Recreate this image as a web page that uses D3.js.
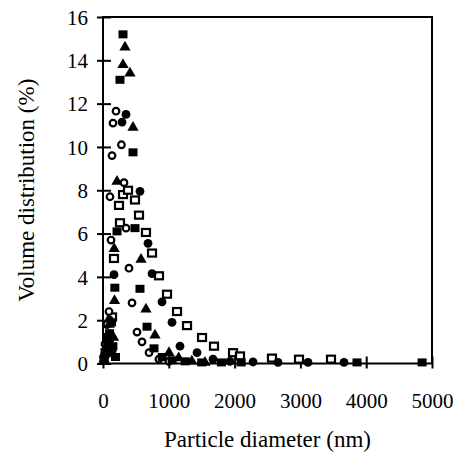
<!DOCTYPE html>
<html>
<head>
<meta charset="utf-8">
<script src="https://cdn.jsdelivr.net/npm/d3@7"></script>
<style>
  body { margin: 0; background: #fff; }
  text { font-family: "Liberation Serif", "Times New Roman", serif; fill: #000; }
</style>
</head>
<body>
<div id="chart"></div>
<script>
// [diameter nm, volume %]
const filledSquares = [[15,0.2],[40,0.5],[70,0.9],[100,1.4],[130,1.9],[150,0.8],[190,0.3],[180,3.5],[213,6.1],[258,13.1],[304,15.2],[456,9.75],[486,6.25],[562,3.45],[669,1.7],[775,0.7],[900,0.3],[1050,0.15],[1250,0.1],[1500,0.05],[1800,0.05],[2100,0.05],[3860,0.05],[4850,0.05]];
const triangles = [[15,0.2],[40,0.6],[65,1.1],[95,1.8],[120,0.5],[160,1.2],[175,2.9],[170,5.3],[213,8.4],[304,13.8],[334,14.6],[410,13.4],[456,10.9],[578,4.8],[653,2.5],[790,1.3],[1003,0.5],[1150,0.25],[1350,0.1],[1550,0.05]];
const openCircles = [[10,0.3],[30,0.9],[60,1.8],[91,2.4],[122,5.7],[106,7.7],[137,9.6],[152,11.1],[198,11.65],[280,10.1],[319,8.35],[350,6.25],[395,4.4],[441,2.8],[517,1.45],[593,1.0],[700,0.5],[850,0.2],[1000,0.1]];
const filledCircles = [[30,0.3],[60,1.0],[100,2.0],[140,0.6],[167,4.1],[289,11.15],[350,11.5],[562,7.95],[684,5.55],[745,4.15],[897,2.85],[1049,1.9],[1170,0.8],[1429,0.5],[1672,0.2],[1930,0.1],[2280,0.07],[2660,0.05],[3116,0.05],[3663,0.05]];
const openSquares = [[40,0.5],[90,1.2],[137,2.15],[167,4.85],[243,7.3],[258,6.5],[304,7.8],[380,8.0],[486,7.55],[547,6.85],[653,6.05],[745,5.1],[851,4.05],[973,3.2],[1125,2.4],[1277,1.75],[1505,1.2],[1687,0.8],[1976,0.5],[2082,0.35],[2568,0.25],[2979,0.2],[3465,0.2]];

const xTicks = [0, 1000, 2000, 3000, 4000, 5000];
const yTicks = [0, 2, 4, 6, 8, 10, 12, 14, 16];

const width = 459, height = 465;
const margin = { top: 17, right: 27, bottom: 101.5, left: 103 };

const svg = d3.select("#chart").append("svg")
  .attr("width", width)
  .attr("height", height);

const x = d3.scaleLinear().domain([0, 5000]).range([margin.left, width - margin.right]);
const y = d3.scaleLinear().domain([0, 16]).range([height - margin.bottom, margin.top]);

// plot frame
svg.append("rect")
  .attr("x", x(0)).attr("y", y(16))
  .attr("width", x(5000) - x(0)).attr("height", y(0) - y(16))
  .attr("fill", "none").attr("stroke", "#000").attr("stroke-width", 2);

const xAxis = svg.append("g")
  .attr("transform", `translate(0, ${y(0)})`)
  .call(d3.axisBottom(x).tickValues(xTicks).tickFormat(d3.format("d")).tickSize(5).tickPadding(0));
xAxis.select(".domain").remove();
xAxis.selectAll(".tick line").attr("y1", -7).attr("y2", 5).attr("stroke-width", 2);
xAxis.selectAll(".tick text")
  .attr("y", 0).attr("dy", 0)
  .attr("transform", "translate(0, 44)")
  .style("font-size", "21px");

const yAxis = svg.append("g")
  .attr("transform", `translate(${x(0)}, 0)`)
  .call(d3.axisLeft(y).tickValues(yTicks).tickSize(6).tickPadding(0));
yAxis.select(".domain").remove();
yAxis.selectAll(".tick line").attr("x1", -6).attr("x2", 8).attr("stroke-width", 2);
yAxis.selectAll(".tick text")
  .attr("x", -15).attr("dy", "0.34em")
  .style("font-size", "21px");

const g = svg.append("g");

g.selectAll(".osq").data(openSquares).enter().append("rect")
  .attr("x", (d) => x(d[0]) - 4).attr("y", (d) => y(d[1]) - 3.5)
  .attr("width", 8).attr("height", 7)
  .attr("fill", "#fff").attr("stroke", "#000").attr("stroke-width", 2.2);

g.selectAll(".fci").data(filledCircles).enter().append("circle")
  .attr("cx", (d) => x(d[0])).attr("cy", (d) => y(d[1]))
  .attr("r", 4.4).attr("fill", "#000");

g.selectAll(".oci").data(openCircles).enter().append("circle")
  .attr("cx", (d) => x(d[0])).attr("cy", (d) => y(d[1]))
  .attr("r", 3.3).attr("fill", "#fff").attr("stroke", "#000").attr("stroke-width", 2.2);

const tri = d3.symbol().type(d3.symbolTriangle).size(55);
g.selectAll(".tri").data(triangles).enter().append("path")
  .attr("d", tri)
  .attr("transform", (d) => `translate(${x(d[0])}, ${y(d[1])})`)
  .attr("fill", "#000");

g.selectAll(".fsq").data(filledSquares).enter().append("rect")
  .attr("x", (d) => x(d[0]) - 4.5).attr("y", (d) => y(d[1]) - 4)
  .attr("width", 9).attr("height", 8)
  .attr("fill", "#000");

svg.append("text")
  .attr("transform", `translate(34, ${(y(0) + y(16)) / 2}) rotate(-90)`)
  .attr("text-anchor", "middle")
  .style("font-size", "23px")
  .text("Volume distribution (%)");

svg.append("text")
  .attr("x", (x(0) + x(5000)) / 2)
  .attr("y", 447)
  .attr("text-anchor", "middle")
  .style("font-size", "23px")
  .text("Particle diameter (nm)");
</script>
</body>
</html>
